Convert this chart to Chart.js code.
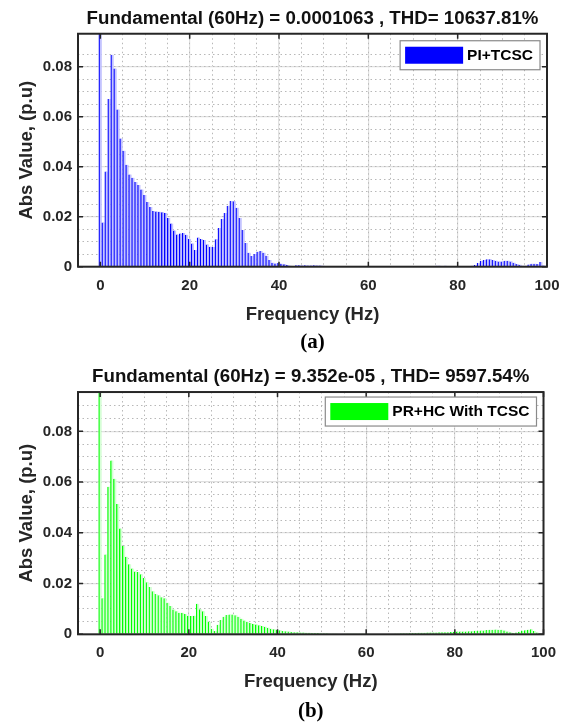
<!DOCTYPE html>
<html>
<head>
<meta charset="utf-8">
<script src="https://cdn.jsdelivr.net/npm/chart.js@4"></script>
<style>
  html, body { margin: 0; padding: 0; background: #fff; }
  .panel { width: 570px; height: 362px; }
  canvas { display: block; }
</style>
</head>
<body>
<div class="panel"><canvas id="chartA" width="570" height="362"></canvas></div>
<div class="panel"><canvas id="chartB" width="570" height="362"></canvas></div>
<script>
// FFT bin resolution of both spectra (Hz)
const binHz = 2 / 3;

// (a) PI+TCSC spectrum, one value per bin from 0 to 100 Hz
const piTcsc = [
  0.094, 0.0177, 0.0381, 0.0671, 0.0848, 0.0793, 0.0629, 0.0513, 0.0464, 0.0408,
  0.0369, 0.0356, 0.0339, 0.0327, 0.0309, 0.0287, 0.0259, 0.0239, 0.0223, 0.0221,
  0.022, 0.0218, 0.0215, 0.0195, 0.0173, 0.0145, 0.0129, 0.0133, 0.0135, 0.0128,
  0.0111, 0.0093, 0.0067, 0.0117, 0.0111, 0.0107, 0.0089, 0.008, 0.0079, 0.011,
  0.0155, 0.0191, 0.0215, 0.0244, 0.0263, 0.0262, 0.0236, 0.0195, 0.0147, 0.0095,
  0.0056, 0.0043, 0.0051, 0.006, 0.0063, 0.0056, 0.0044, 0.0027, 0.0016, 0.0013,
  0.0015, 0.0012, 0.001, 0.0007, 0.0004, 0.0003, 0.0006, 0.0006, 0.0005, 0.0006,
  0.0005, 0.0005, 0.0006, 0.0005, 0.0005, 0.0004, 0.0001, 0.0001, 0.0001, 0.0001,
  0.0001, 0.0001, 0.0001, 0.0001, 0.0001, 0.0001, 0.0001, 0.0001, 0.0001, 0.0001,
  0.0001, 0.0001, 0.0001, 0.0001, 0.0001, 0.0001, 0.0001, 0.0001, 0.0001, 0.0001,
  0.0001, 0.0001, 0.0001, 0.0001, 0.0001, 0.0001, 0.0001, 0.0001, 0.0002, 0.0002,
  0.0002, 0.0001, 0.0001, 0.0004, 0.0004, 0.0003, 0.0004, 0.0002, 0.0001, 0.0001,
  0.0001, 0.0003, 0.0003, 0.0002, 0.0001, 0.0004, 0.0007, 0.0015, 0.0023, 0.0027,
  0.003, 0.003, 0.0027, 0.0024, 0.0021, 0.0021, 0.0024, 0.0024, 0.0021, 0.0016,
  0.0011, 0.0008, 0.0004, 0.0004, 0.0009, 0.0012, 0.0012, 0.0011, 0.0019, 0.0005,
  0.0002
];

// (b) PR+HC with TCSC spectrum, same bins
const prHcTcsc = [
  0.096, 0.0142, 0.0315, 0.0582, 0.0685, 0.0613, 0.0514, 0.0417, 0.0348, 0.0306,
  0.0276, 0.0259, 0.0248, 0.0246, 0.0237, 0.0222, 0.0205, 0.0186, 0.017, 0.0159,
  0.0154, 0.0146, 0.0142, 0.0124, 0.0112, 0.0098, 0.0091, 0.0085, 0.0085, 0.008,
  0.0073, 0.0072, 0.0073, 0.012, 0.0099, 0.0091, 0.0072, 0.0049, 0.0022, 0.0013,
  0.0038, 0.0056, 0.0069, 0.0076, 0.0078, 0.0078, 0.0075, 0.0069, 0.0061, 0.0054,
  0.0049, 0.0045, 0.0041, 0.0039, 0.0036, 0.0033, 0.003, 0.0026, 0.0022, 0.002,
  0.0017, 0.0016, 0.0013, 0.0012, 0.0011, 0.0009, 0.0008, 0.0008, 0.0007, 0.0007,
  0.0006, 0.0006, 0.0005, 0.0005, 0.0005, 0.0004, 0.0004, 0.0004, 0.0003, 0.0003,
  0.0003, 0.0002, 0.0002, 0.0001, 0.0001, 0.0001, 0.0001, 0.0001, 0.0001, 0.0001,
  0.0001, 0.0001, 0.0002, 0.0002, 0.0002, 0.0002, 0.0002, 0.0002, 0.0002, 0.0002,
  0.0003, 0.0003, 0.0004, 0.0004, 0.0004, 0.0005, 0.0005, 0.0005, 0.0006, 0.0006,
  0.0006, 0.0007, 0.0007, 0.0007, 0.0007, 0.0008, 0.0008, 0.0008, 0.0008, 0.0009,
  0.001, 0.0011, 0.0011, 0.0011, 0.0011, 0.0012, 0.0012, 0.0014, 0.0014, 0.0015,
  0.0015, 0.0017, 0.0018, 0.0018, 0.0019, 0.0018, 0.0018, 0.0015, 0.0011, 0.0008,
  0.0005, 0.0007, 0.001, 0.0014, 0.0016, 0.0018, 0.002, 0.0013, 0.0007, 0.0003,
  0.0001
];

const frequencyHz = piTcsc.map((_, i) => i * binHz);
const xTickValues = [0, 20, 40, 60, 80, 100];
const yTickValues = [0, 0.02, 0.04, 0.06, 0.08];

const SANS = '"Liberation Sans", Arial, Helvetica, sans-serif';
const SERIF = '"Liberation Serif", "Times New Roman", serif';
const INK = '#262626';

Chart.defaults.font.family = SANS;

// axes box with inward tick marks, MATLAB style
const framePlugin = {
  id: 'frame',
  afterDatasetsDraw(chart) {
    const { ctx, chartArea: a, scales } = chart;
    ctx.save();
    ctx.strokeStyle = INK;
    ctx.lineWidth = 1.5;
    ctx.beginPath();
    scales.x.ticks.forEach(t => {
      const px = scales.x.getPixelForValue(t.value);
      ctx.moveTo(px, a.bottom); ctx.lineTo(px, a.bottom - 5);
      ctx.moveTo(px, a.top); ctx.lineTo(px, a.top + 5);
    });
    scales.y.ticks.forEach(t => {
      const py = scales.y.getPixelForValue(t.value);
      ctx.moveTo(a.left, py); ctx.lineTo(a.left + 5, py);
      ctx.moveTo(a.right, py); ctx.lineTo(a.right - 5, py);
    });
    ctx.stroke();
    ctx.lineWidth = 2;
    ctx.strokeRect(a.left, a.top, a.right - a.left, a.bottom - a.top);
    ctx.restore();
  }
};

// boxed legend in the upper right corner of the axes
const boxLegendPlugin = {
  id: 'boxLegend',
  afterDraw(chart, args, opts) {
    const { ctx, chartArea: a } = chart;
    const ds = chart.data.datasets[0];
    ctx.save();
    ctx.font = 'bold 15.5px ' + SANS;
    const tw = ctx.measureText(ds.label).width;
    const h = 29, pw = 58, ph = 17;
    const w = 5 + pw + 4 + tw + 7;
    const x = a.right - 7 - w;
    const y = a.top + opts.top;
    ctx.fillStyle = '#fff';
    ctx.fillRect(x, y, w, h);
    ctx.strokeStyle = '#8a8a8a';
    ctx.lineWidth = 1.2;
    ctx.strokeRect(x, y, w, h);
    ctx.fillStyle = ds.borderColor;
    ctx.fillRect(x + 5, y + (h - ph) / 2, pw, ph);
    ctx.fillStyle = '#000';
    ctx.textBaseline = 'middle';
    ctx.fillText(ds.label, x + 5 + pw + 4, y + h / 2 + 0.5);
    ctx.restore();
  }
};

function makeSpectrum(id, values, o) {
  return new Chart(document.getElementById(id), {
    type: 'bar',
    data: {
      datasets: [{
        label: o.label,
        data: frequencyHz.map((f, i) => ({ x: f, y: values[i] })),
        backgroundColor: o.tint,
        borderColor: o.color,
        borderWidth: { left: 1.3, top: 0, right: 0, bottom: 0 },
        borderSkipped: false,
        barThickness: 3,
        clip: 0
      }]
    },
    options: {
      responsive: false,
      animation: false,
      layout: { padding: { left: 0, right: o.padRight, top: 0, bottom: 0 } },
      plugins: {
        legend: { display: false },
        tooltip: { enabled: false },
        title: {
          display: true,
          text: o.title,
          fullSize: false,
          color: '#111',
          font: { size: 18.7, weight: 'bold' },
          padding: o.titlePad
        },
        subtitle: {
          display: true,
          position: 'bottom',
          text: o.tag,
          fullSize: false,
          color: '#000',
          font: { family: SERIF, size: 21, weight: 'bold' },
          padding: o.tagPad
        },
        boxLegend: { top: o.legendTop }
      },
      scales: {
        x: {
          type: 'linear',
          min: -5,
          max: 100,
          offset: false,
          afterBuildTicks: s => { s.ticks = xTickValues.map(v => ({ value: v })); },
          afterFit: s => { s.height = o.xAxisHeight; },
          grid: { color: '#e0e0e0', lineWidth: 1.2, drawTicks: false, offset: false },
          border: { display: false },
          ticks: { padding: 10, color: INK, maxRotation: 0, autoSkip: false,
                   font: { size: 15, weight: 'bold' } },
          title: { display: true, text: 'Frequency (Hz)', color: INK,
                   font: { size: 18.5, weight: 'bold' }, padding: { top: 0, bottom: o.xTitlePad } }
        },
        xMinor: {
          type: 'linear',
          position: 'bottom',
          min: -5,
          max: 100,
          offset: false,
          afterFit: s => { s.height = 0; },
          grid: { color: '#b8b8b8', lineWidth: 1, drawTicks: false, offset: false },
          border: { display: false, dash: [1.5, 3] },
          ticks: { display: false, stepSize: 5 }
        },
        y: {
          min: 0,
          max: o.yMax,
          afterBuildTicks: s => { s.ticks = yTickValues.map(v => ({ value: v })); },
          afterFit: s => { s.width = 78; },
          grid: { color: '#e0e0e0', lineWidth: 1.2, drawTicks: false },
          border: { display: false },
          ticks: { padding: 6, color: INK, font: { size: 15, weight: 'bold' } },
          title: { display: true, text: 'Abs Value, (p.u)', color: INK,
                   font: { size: 18.5, weight: 'bold' }, padding: { top: 16, bottom: 0 } }
        },
        yMinor: {
          type: 'linear',
          position: 'left',
          min: 0,
          max: o.yMax,
          afterFit: s => { s.width = 0; },
          grid: { color: '#b8b8b8', lineWidth: 1, drawTicks: false },
          border: { display: false, dash: [1.5, 3] },
          ticks: { display: false, stepSize: 0.005 }
        }
      }
    },
    plugins: [framePlugin, boxLegendPlugin]
  });
}

makeSpectrum('chartA', piTcsc, {
  label: 'PI+TCSC',
  color: '#0000ff',
  tint: '#c4c4ff',
  title: 'Fundamental (60Hz) = 0.0001063 , THD= 10637.81%',
  tag: '(a)',
  yMax: 0.0932,
  padRight: 23,
  titlePad: { top: 7.3, bottom: 4 },
  tagPad: { top: 0, bottom: 6.5 },
  xAxisHeight: 63.6,
  xTitlePad: 4.5,
  legendTop: 7
});

makeSpectrum('chartB', prHcTcsc, {
  label: 'PR+HC With TCSC',
  color: '#00ff00',
  tint: '#d6ffd6',
  title: 'Fundamental (60Hz) = 9.352e-05 , THD= 9597.54%',
  tag: '(b)',
  yMax: 0.0955,
  padRight: 26.5,
  titlePad: { top: 3.8, bottom: 3.8 },
  tagPad: { top: 0, bottom: 0 },
  xAxisHeight: 64.5,
  xTitlePad: 5.7,
  legendTop: 5
});
</script>
</body>
</html>
